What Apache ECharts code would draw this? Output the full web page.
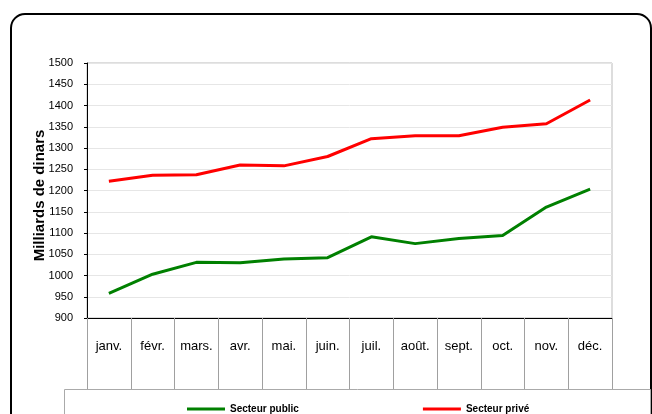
<!DOCTYPE html>
<html>
<head>
<meta charset="utf-8">
<script src="https://cdn.jsdelivr.net/npm/echarts@6/dist/echarts.min.js"></script>
<style>html,body{margin:0;padding:0;background:#fff;}#c{width:652px;height:414px;}</style>
</head>
<body>
<div id="c"></div>
<script>
const categories = ['janv.','févr.','mars.','avr.','mai.','juin.','juil.','août.','sept.','oct.','nov.','déc.'];
const secteurPublic = [958, 1003, 1031, 1030, 1039, 1042, 1091, 1075, 1087, 1094, 1161, 1203];
const secteurPrive = [1222, 1236, 1237, 1260, 1258, 1280, 1322, 1329, 1329, 1349, 1357, 1413];
const seriesNames = ['Secteur public', 'Secteur privé'];
const yAxisName = 'Milliards de dinars';

const chart = echarts.init(document.getElementById('c'));
chart.setOption({
  animation: false,
  textStyle: { fontFamily: 'Liberation Sans, Arial, sans-serif' },
  grid: { left: 87, right: 40, top: 63, bottom: 96, show: true, borderColor: '#bbbbbb', borderWidth: 1, backgroundColor: 'transparent' },
  graphic: [
    { type: 'rect', z: 0, silent: true, shape: { x: 11, y: 14, width: 640, height: 430, r: 14 }, style: { fill: 'none', stroke: '#000', lineWidth: 2 } },
    { type: 'rect', z: 0, silent: true, shape: { x: 64.5, y: 389.5, width: 586, height: 40 }, style: { fill: '#fff', stroke: '#aaaaaa', lineWidth: 1 } }
  ],
  legend: {
    data: seriesNames,
    left: 187, top: 404,
    padding: 0,
    itemWidth: 38, itemHeight: 3, itemGap: 124,
    icon: 'rect',
    textStyle: { fontSize: 10, fontWeight: 'bold', color: '#000', fontFamily: 'Liberation Sans, Arial, sans-serif' }
  },
  xAxis: {
    type: 'category',
    data: categories,
    boundaryGap: true,
    axisLine: { lineStyle: { color: '#000', width: 1 } },
    axisTick: { show: true, length: 71, interval: 0, lineStyle: { color: '#a0a0a0' } },
    axisLabel: { fontSize: 13, color: '#000', margin: 22, interval: 0 },
    splitLine: { show: false }
  },
  yAxis: {
    type: 'value',
    min: 900, max: 1500, interval: 50,
    name: yAxisName,
    nameLocation: 'middle',
    nameGap: 40,
    nameMoveOverlap: false,
    nameRotate: 90,
    nameTextStyle: { fontSize: 15, fontWeight: 'bold', color: '#000', padding: [0, 10, 0, 0] },
    axisLine: { show: true, lineStyle: { color: '#000', width: 1 } },
    axisTick: { show: true, length: 3, lineStyle: { color: '#000' } },
    axisLabel: { fontSize: 11, color: '#000', margin: 14, formatter: function (v) { return String(v); } },
    splitLine: { lineStyle: { color: '#e6e6e6' } }
  },
  series: [
    { name: seriesNames[0], type: 'line', data: secteurPublic, symbol: 'none', lineStyle: { color: '#008000', width: 3 }, itemStyle: { color: '#008000' } },
    { name: seriesNames[1], type: 'line', data: secteurPrive, symbol: 'none', lineStyle: { color: '#ff0000', width: 3 }, itemStyle: { color: '#ff0000' } }
  ]
});
</script>
</body>
</html>
